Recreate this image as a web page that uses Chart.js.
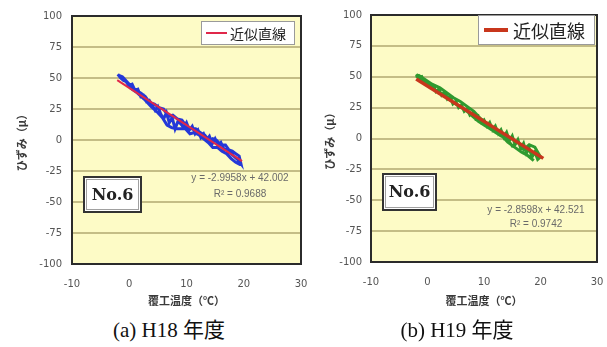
<!DOCTYPE html>
<html>
<head>
<meta charset="utf-8">
<script src="https://cdn.jsdelivr.net/npm/chart.js@4"></script>
<style>
body { margin: 0; background: #fff; }
#wrap { position: relative; width: 607px; height: 347px; overflow: hidden; }
canvas { position: absolute; top: 0; }
.cap { position: absolute; top: 313px; width: 200px; text-align: center;
  font: 21px "Liberation Serif", "Noto Sans CJK JP", serif; color: #111; }
</style>
</head>
<body>
<div id="wrap">
  <canvas id="c1" width="320" height="310" style="left:0"></canvas>
  <canvas id="c2" width="304" height="310" style="left:303px"></canvas>
  <div class="cap" style="left:69px">(a) H18 年度</div>
  <div class="cap" style="left:357px">(b) H19 年度</div>
</div>
<script>
// axes
const tempTicks = [-10, 0, 10, 20, 30];
const strainTicks = [-100, -75, -50, -25, 0, 25, 50, 75, 100];

const h18Temp = [
  -2.0, -1.5, -1.0, -0.5, 0.0, 0.5, 1.0, 1.5, 2.0, 2.5, 3.0, 3.5, 4.0, 4.5, 5.0, 5.5, 6.0, 6.5, 7.0, 7.5, 8.0, 8.5,
  9.0, 9.5, 10.0, 10.5, 11.0, 11.5, 12.0, 12.5, 13.0, 13.5, 14.0, 14.5, 15.0, 15.5, 16.0, 16.5, 17.0, 17.5, 18.0,
  18.5, 19.0, 19.5,
  19.2, 18.6, 18.0, 17.4, 16.8, 16.0, 15.2, 14.6, 14.0, 13.2, 12.4, 11.6, 10.8, 10.0, 9.2, 8.4, 7.6, 6.8, 6.0, 5.2,
  4.4, 3.6, 2.8, 2.0, 1.2, 0.4, -0.4, -1.2, -1.8,
  -1.0, 0.2, 1.4, 2.6, 3.8, 5.0, 5.8, 6.6, 7.4, 8.2, 9.0, 9.8, 10.6, 11.4, 12.2, 13.0, 13.8, 14.6, 15.4, 16.2, 17.0,
  17.8, 18.6, 19.4
];
const h18Strain = [
  53, 50, 48, 47, 44, 45, 40, 41, 35, 36, 31, 32, 28, 24, 27, 21, 17, 22, 14, 18, 9, 15,
  13, 10, 14, 8, 11, 5, 8, 2, 5, 0, 3, -3, 1, -4, -2, -7, -8, -10, -12,
  -14, -16, -19,
  -13, -11, -9, -8, -4, -4, 0, 1, -1, 4, 6, 9, 9, 11, 16, 17, 20, 19, 25, 26,
  29, 30, 35, 38, 40, 43, 47, 51, 52,
  50, 42, 38, 33, 27, 22, 18, 12, 10, 9, 9, 9, 5, 6, 4, 1, -2, -6, -6, -9, -11,
  -15, -18, -20
];
const h18FitTemp = [-2.1, 19.7];
const h18FitStrain = [48.3, -17.0];
const h18Equation = ["y = -2.9958x + 42.002", "R² = 0.9688"];

// H19
const h19Temp = [
  -2.0, -1.5, -1.0, -0.5, 0.0, 0.5, 1.0, 1.5, 2.0, 2.5, 3.0, 3.5, 4.0, 4.5, 5.0, 5.5, 6.0, 6.5, 7.0, 7.5, 8.0, 8.5,
  9.0, 9.5, 10.0, 10.5, 11.0, 11.5, 12.0, 12.5, 13.0, 13.5, 14.0, 14.5, 15.0, 15.5, 16.0, 16.5, 17.0, 17.5, 18.0,
  18.5, 19.0, 19.5, 20.0,
  19.0, 18.0, 17.0, 16.0, 15.0, 14.0, 13.0, 12.0, 11.0, 10.0, 9.0, 8.0, 7.0, 6.0, 5.0, 4.0, 3.0, 2.0, 1.0, 0.0,
  -1.0, -1.8,
  -1.5, -0.5, 0.8, 2.2, 3.4, 4.6, 5.8, 7.0, 8.2, 9.4, 10.6, 11.8, 13.0, 14.2, 15.4, 16.6, 17.8, 18.8
];
const h19Strain = [
  52, 49, 50, 46, 46, 42, 43, 38, 40, 35, 37, 32, 34, 28, 30, 25, 27, 22, 24, 19, 21, 16,
  18, 13, 15, 10, 13, 7, 10, 4, 7, 1, 5, -2, 2, -5, -1, -8, -4, -12, -8,
  -15, -11, -17, -15,
  -7, -5, -9, -3, -6, 0, 2, 5, 8, 11, 14, 18, 22, 25, 28, 31, 36, 37, 41, 44,
  47, 50,
  51, 48, 44, 41, 37, 33, 30, 26, 22, 16, 12, 6, 3, -3, -7, -11, -14, -18
];
const h19FitTemp = [-2.0, 20.5];
const h19FitStrain = [48.2, -16.1];
const h19Equation = ["y = -2.8598x + 42.521", "R² = 0.9742"];

const pts = (xs, ys) => xs.map((x, i) => ({ x: x, y: ys[i] }));

// plot background, frame, legend box, "No.6" box and fit equation
const deco = {
  id: "deco",
  beforeDraw(chart) {
    const { ctx, chartArea: a } = chart;
    ctx.save();
    ctx.fillStyle = "#fdfbc6";
    ctx.fillRect(a.left, a.top, a.right - a.left, a.bottom - a.top);
    ctx.restore();
  },
  afterDraw(chart, args, o) {
    const { ctx, chartArea: a } = chart;
    ctx.save();
    ctx.strokeStyle = "#2b2b2b";
    ctx.lineWidth = 2;
    ctx.strokeRect(a.left, a.top, a.right - a.left, a.bottom - a.top);

    // legend
    const fit = chart.data.datasets[0];
    const L = o.legend;
    const lx = a.right - L.dx - L.w, ly = a.top + L.dy;
    ctx.fillStyle = "#fff";
    ctx.fillRect(lx, ly, L.w, L.h);
    ctx.strokeStyle = "#9a9a9a";
    ctx.lineWidth = 1;
    ctx.strokeRect(lx + 0.5, ly + 0.5, L.w - 1, L.h - 1);
    ctx.strokeStyle = fit.borderColor;
    ctx.lineWidth = L.lw;
    ctx.beginPath();
    ctx.moveTo(lx + L.pad, ly + L.h / 2);
    ctx.lineTo(lx + L.pad + L.len, ly + L.h / 2);
    ctx.stroke();
    ctx.fillStyle = "#222";
    ctx.font = L.size + 'px "Noto Sans CJK JP"';
    ctx.textBaseline = "middle";
    ctx.textAlign = "left";
    ctx.fillText(fit.label, lx + L.pad + L.len + L.gap, ly + L.h / 2 + 1);

    // No.6
    const B = o.box;
    const bx = a.left + B.dx, by = a.top + B.dy;
    ctx.fillStyle = "#fff";
    ctx.fillRect(bx, by, B.w, B.h);
    ctx.strokeStyle = "#333";
    ctx.lineWidth = 2;
    ctx.strokeRect(bx + 1, by + 1, B.w - 2, B.h - 2);
    ctx.strokeStyle = "#a0a0a0";
    ctx.lineWidth = 1;
    ctx.strokeRect(bx + 3.5, by + 3.5, B.w - 7, B.h - 7);
    ctx.fillStyle = "#222";
    ctx.font = 'bold 16px "DejaVu Serif"';
    ctx.textAlign = "center";
    ctx.fillText(B.text, bx + B.w / 2, by + B.h / 2 + 1);

    // equation
    const E = o.eq;
    ctx.fillStyle = "#6a6a6a";
    ctx.font = '10px "Liberation Sans"';
    E.text.forEach((t, i) => {
      ctx.fillText(t, a.right - E.dx, a.top + E.dy + i * E.step);
    });
    ctx.restore();
  },
};

function makeChart(id, lay, series, fitSeries, colors, decoOpts) {
  return new Chart(document.getElementById(id), {
    type: "scatter",
    data: {
      datasets: [
        {
          label: "近似直線",
          data: fitSeries,
          showLine: true,
          borderColor: colors.fit,
          borderWidth: colors.fitWidth,
          pointRadius: 0,
        },
        {
          label: "ひずみ",
          data: series,
          showLine: true,
          borderColor: colors.data,
          borderWidth: 3,
          pointRadius: 0,
        },
      ],
    },
    options: {
      responsive: false,
      animation: false,
      layout: { padding: { left: 0, top: lay.top, right: lay.right, bottom: 0 } },
      plugins: { legend: { display: false }, tooltip: { enabled: false }, deco: decoOpts },
      scales: {
        x: {
          min: tempTicks[0],
          max: tempTicks[tempTicks.length - 1],
          ticks: { stepSize: tempTicks[1] - tempTicks[0], padding: 14, color: "#555",
            font: { family: "DejaVu Sans", size: 10 } },
          grid: { display: false, drawTicks: false },
          border: { display: false },
          title: { display: true, text: "覆工温度（℃）", color: "#3a3a3a", padding: { top: 0, bottom: 3 },
            font: { family: "Noto Sans CJK JP", size: 11, weight: "bold" } },
          afterFit(s) { s.height = lay.xh; s.paddingLeft = 0; s.paddingRight = 0; },
        },
        y: {
          min: strainTicks[0],
          max: strainTicks[strainTicks.length - 1],
          ticks: { stepSize: strainTicks[1] - strainTicks[0], padding: lay.yPad, color: "#555",
            font: { family: "DejaVu Sans", size: 10 } },
          grid: { color: "#c4bd86", lineWidth: 2, drawTicks: false },
          border: { display: false },
          title: { display: true, text: "ひずみ（μ）", color: "#3a3a3a", padding: { top: lay.titlePad, bottom: 0 },
            font: { family: "Noto Sans CJK JP", size: 11, weight: "bold" } },
          afterFit(s) { s.width = lay.yw; s.paddingTop = 0; s.paddingBottom = 0; },
        },
      },
    },
    plugins: [deco],
  });
}

makeChart(
  "c1",
  { top: 16, right: 19, xh: 46, yw: 72, yPad: 10, titlePad: 15 },
  pts(h18Temp, h18Strain),
  pts(h18FitTemp, h18FitStrain),
  { data: "#2438d8", fit: "#e0284a", fitWidth: 2 },
  {
    legend: { dx: 6, dy: 5, w: 94, h: 24, pad: 5, len: 21, gap: 3, lw: 2, size: 14 },
    box: { dx: 11, dy: 160, w: 59, h: 37, text: "No.6" },
    eq: { dx: 61, dy: 162, step: 16, text: h18Equation },
  }
);

makeChart(
  "c2",
  { top: 15, right: 10, xh: 48, yw: 68, yPad: 9, titlePad: 20 },
  pts(h19Temp, h19Strain),
  pts(h19FitTemp, h19FitStrain),
  { data: "#2f9a2f", fit: "#c8361c", fitWidth: 3.5 },
  {
    legend: { dx: 2, dy: 0, w: 117, h: 30, pad: 6, len: 24, gap: 5, lw: 4, size: 18 },
    box: { dx: 11, dy: 158, w: 55, h: 38, text: "No.6" },
    eq: { dx: 61, dy: 195, step: 14, text: h19Equation },
  }
);
</script>
</body>
</html>
